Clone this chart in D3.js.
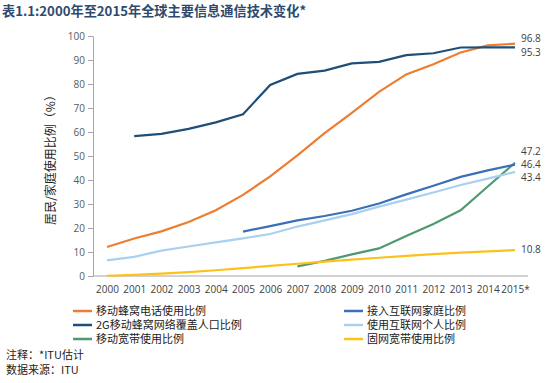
<!DOCTYPE html>
<html>
<head>
<meta charset="utf-8">
<script src="https://cdn.jsdelivr.net/npm/d3@7"></script>
<style>
body { margin: 0; background: #fff; }
text { font-family: "Noto Sans CJK SC", "Open Sans", sans-serif; }
</style>
</head>
<body>
<div></div>
<script>
var width = 547;
var height = 383;

var years = d3.range(2000, 2016);
var yearLabels = ["2000","2001","2002","2003","2004","2005","2006","2007","2008","2009","2010","2011","2012","2013","2014","2015*"];
var yTicks = [0,10,20,30,40,50,60,70,80,90,100];

// 数据: 各年比例 (%)
var mobileCellular = [12.1,15.6,18.6,22.5,27.4,33.8,41.5,50.3,59.5,68.0,76.7,84.0,88.2,93.1,96.1,96.8];
var coverage2G     = [null,58.3,59.2,61.3,64.0,67.4,79.6,84.2,85.6,88.6,89.2,92.0,92.8,95.2,95.3,95.3];
var mobileBroadband= [null,null,null,null,null,null,null,4.0,6.3,9.0,11.5,16.7,21.7,27.4,37.3,47.2];
var householdsNet  = [null,null,null,null,null,18.5,20.8,23.2,25.0,27.2,30.2,34.0,37.6,41.3,44.0,46.4];
var individualsNet = [6.5,8.0,10.6,12.3,14.0,15.7,17.5,20.6,23.2,25.8,28.9,31.8,34.8,37.9,40.6,43.4];
var fixedBroadband = [0.1,0.5,1.0,1.6,2.4,3.3,4.2,5.1,6.0,6.8,7.6,8.4,9.1,9.7,10.3,10.8];

var seriesNames = ["移动蜂窝电话使用比例","2G移动蜂窝网络覆盖人口比例","移动宽带使用比例","接入互联网家庭比例","使用互联网个人比例","固网宽带使用比例"];
var seriesValues = [mobileCellular, coverage2G, mobileBroadband, householdsNet, individualsNet, fixedBroadband];
var seriesColors = ["#ed7d31","#1f4e79","#4e9a70","#3a70b8","#a9d0f0","#fcc21b"];
var labelShift = [-5, 5, -11, 0, 6, -1];

var svg = d3.select("div")
	.append("svg")
	.attr("width", width)
	.attr("height", height);

var x = d3.scaleLinear().domain([2000, 2015]).range([107, 515]);
var y = d3.scaleLinear().domain([0, 100]).range([276, 36]);

// 标题
svg.append("text")
	.attr("x", 2)
	.attr("y", 16)
	.attr("font-size", 13.2)
	.attr("font-weight", "bold")
	.attr("fill", "#2e4a6d")
	.text("表1.1:2000年至2015年全球主要信息通信技术变化*");

// y 轴
var yAxis = svg.append("g")
	.attr("transform", "translate(93,0)")
	.call(d3.axisLeft(y).tickValues(yTicks).tickSize(5).tickSizeOuter(0).tickPadding(3));
yAxis.select(".domain").attr("stroke", "#a6a6a6");
yAxis.selectAll(".tick line").attr("stroke", "#a6a6a6");
yAxis.selectAll(".tick text")
	.attr("fill", "#595959")
	.attr("font-size", 10)
	.style("font-family", "'Open Sans', sans-serif");

// x 轴
var xAxis = svg.append("g")
	.attr("transform", "translate(0,276)")
	.call(d3.axisBottom(x).tickValues(years).tickSize(0).tickPadding(10)
		.tickFormat((d, i) => yearLabels[i]));
xAxis.select(".domain").remove();
xAxis.selectAll(".tick text")
	.attr("fill", "#404040")
	.attr("font-size", 10)
	.style("font-family", "'Open Sans', sans-serif");
svg.append("line")
	.attr("x1", 93)
	.attr("x2", x(2015) + 13)
	.attr("y1", y(0))
	.attr("y2", y(0))
	.attr("stroke", "#a6a6a6");

// y 轴标题
svg.append("text")
	.attr("transform", "translate(55," + (y(50) + 1) + ") rotate(-90)")
	.attr("text-anchor", "middle")
	.attr("font-size", 12)
	.attr("fill", "#222")
	.text("居民/家庭使用比例（%）");

// 折线
var line = d3.line()
	.defined(d => d.v !== null)
	.x(d => x(d.year))
	.y(d => y(d.v));

seriesValues.forEach((vals, i) => {
	var pts = years.map((yr, j) => ({ year: yr, v: vals[j] }));
	svg.append("path")
		.datum(pts)
		.attr("fill", "none")
		.attr("stroke", seriesColors[i])
		.attr("stroke-width", 2.2)
		.attr("d", line);

	svg.append("text")
		.attr("x", x(2015) + 6)
		.attr("y", y(vals[15]) + labelShift[i])
		.attr("dy", "0.35em")
		.attr("font-size", 10)
		.attr("fill", "#404040")
		.style("font-family", "'Open Sans', sans-serif")
		.text(vals[15]);
});

// 图例
var legendOrder = [0, 3, 1, 4, 2, 5];
legendOrder.forEach((s, k) => {
	var col = k % 2;
	var row = Math.floor(k / 2);
	var lx = col === 0 ? 73 : 344;
	var ly = 311 + row * 14;
	svg.append("line")
		.attr("x1", lx)
		.attr("x2", lx + 19)
		.attr("y1", ly)
		.attr("y2", ly)
		.attr("stroke", seriesColors[s])
		.attr("stroke-width", 2.5);
	svg.append("text")
		.attr("x", lx + 23)
		.attr("y", ly)
		.attr("dy", "0.35em")
		.attr("font-size", 11)
		.attr("fill", "#222")
		.text(seriesNames[s]);
});

// 注释
svg.append("text")
	.attr("x", 6)
	.attr("y", 355)
	.attr("dy", "0.35em")
	.attr("font-size", 11)
	.attr("fill", "#222")
	.text("注释：*ITU估计");
svg.append("text")
	.attr("x", 6)
	.attr("y", 370)
	.attr("dy", "0.35em")
	.attr("font-size", 11)
	.attr("fill", "#222")
	.text("数据来源：ITU");
</script>
</body>
</html>
